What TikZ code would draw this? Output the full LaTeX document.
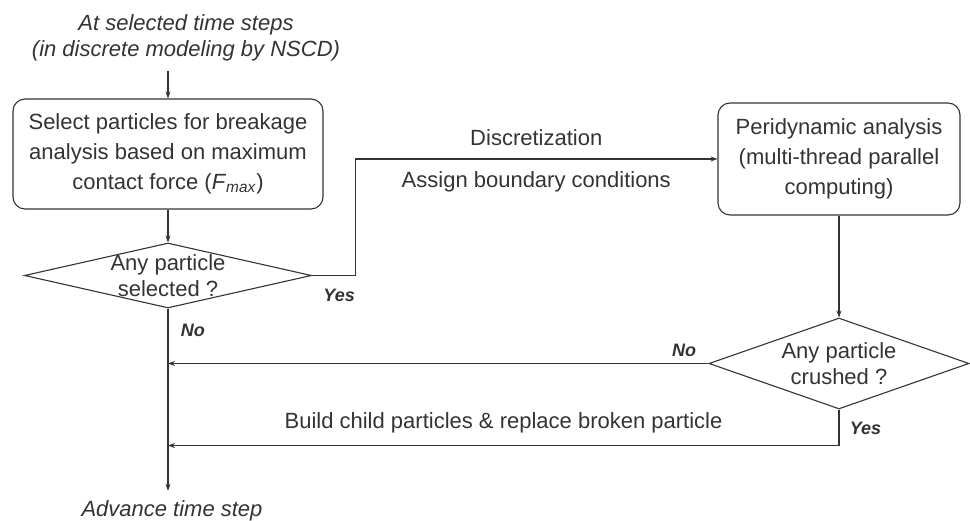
\documentclass[tikz,border=0pt]{standalone}
\usepackage{fontspec}
\setmainfont{Liberation Sans}
\usetikzlibrary{shapes.geometric,arrows.meta}

\begin{document}
\begin{tikzpicture}[x=1pt,y=1pt,line width=1.1pt,color=black!80,
  >={Stealth[length=7pt,width=5pt]},
  every node/.style={font=\fontsize{22}{26}\selectfont,align=center},
  note/.style={font=\fontsize{22}{26}\selectfont\itshape},
  box/.style={draw,rounded corners=12pt,inner sep=0pt,font=\fontsize{22}{30}\selectfont},
  decision/.style={draw,diamond,inner sep=0pt},
  lbl/.style={font=\fontsize{18}{20}\selectfont\bfseries\itshape}]

\useasboundingbox (0,0) rectangle (970,520);

\node[note] (start) at (186,482) {At selected time steps\\(in discrete modeling by NSCD)};
\node[box,minimum width=310pt,minimum height=110pt] (select) at (168,366)
  {Select particles for breakage\\analysis based on maximum\\contact force (\textit{F}\textsubscript{\textit{max}})};
\node[box,minimum width=242pt,minimum height=112pt] (peri) at (839,361)
  {Peridynamic analysis\\(multi-thread parallel\\computing)};
\node[decision,minimum width=287pt,minimum height=65pt] (sel) at (168,244.5) {};
\node (seltext) at (sel) {Any particle\\selected ?};
\node[decision,minimum width=260pt,minimum height=91pt] (crush) at (839,156.5) {};
\node (crushtext) at (crush) {Any particle\\crushed ?};
\node[note] (adv) at (172,9) {Advance time step};
\coordinate (back) at ([yshift=-36pt]crush.south);

\draw[->,shorten <=6pt] (start.south -| select.north) -- (select.north);
\draw[->] (select) -- (sel);
\draw[->] (sel.east) -- ++(43,0) node[lbl,pos=0.63,below=9.5pt] {Yes}
  |- (peri.west) node[pos=0.75,above=9pt] {Discretization}
  node[pos=0.75,below=9pt] {Assign boundary conditions};
\draw[->] (peri) -- (crush);
\draw[->] (crush.west) -- (crush.west -| sel.south) node[lbl,pos=0.045,above=3pt] {No};
\draw[->] (crush.south) -- (back) node[lbl,pos=0.53,right=7pt] {Yes}
  -- (back -| sel.south) node[midway,above=9pt] {Build child particles \& replace broken particle};
\draw[->,shorten >=6pt] (sel.south) -- (sel.south |- adv.north) node[lbl,pos=0.117,right=9pt] {No};
\end{tikzpicture}
\end{document}
